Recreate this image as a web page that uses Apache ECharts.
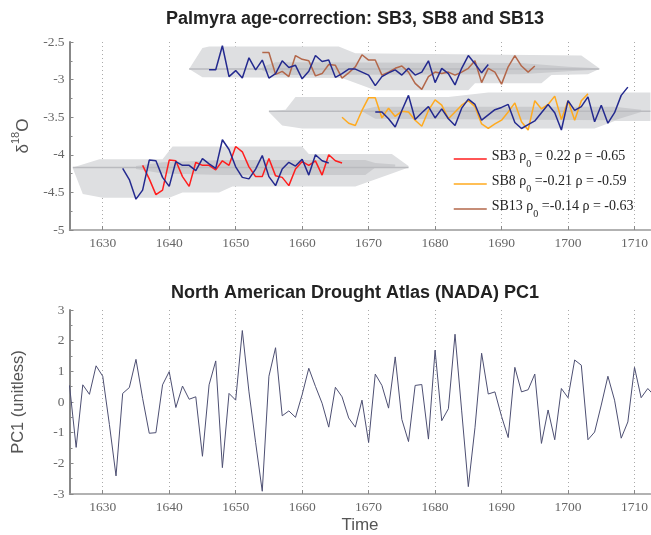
<!DOCTYPE html>
<html>
<head>
<meta charset="utf-8">
<script src="https://cdn.jsdelivr.net/npm/echarts@6/dist/echarts.min.js"></script>
<style>
  html, body { margin: 0; padding: 0; background: #fff; }
  #chart { width: 651px; height: 535px; }
</style>
</head>
<body>
<div id="chart"></div>
<script>
  // --- data ---
  const yearTicks = [1630, 1640, 1650, 1660, 1670, 1680, 1690, 1700, 1710]

  // delta18O records, one value per year from the start year
  const sb3Start = 1636
  const sb3Values = [-4.14, -4.32, -4.53, -4.47, -4.07, -4.08, -4.29, -4.42, -4.10, -4.14, -4.14, -4.20, -4.08, -4.14, -3.89, -3.96,
    -4.16, -4.29, -4.29, -4.05, -4.28, -4.30, -4.41, -4.19, -4.09, -4.14, -4.08, -4.27, -4.00, -4.08, -4.11]
  const sb3BlueStart = 1633
  const sb3BlueValues = [-4.18, -4.33, -4.59, -4.47, -4.07, -4.08, -4.30, -4.42, -4.09, -4.14, -4.14, -4.21, -4.05, -4.12, -4.18, -3.80,
    -3.93, -4.16, -4.30, -4.32, -4.19, -4.01, -4.29, -4.41, -4.19, -4.10, -4.15, -4.06, -4.27, -4.00, -4.08, -4.11]

  const sb8Start = 1666
  const sb8Values = [-3.50, -3.58, -3.61, -3.41, -3.24, -3.24, -3.51, -3.38, -3.49, -3.42, -3.43, -3.54, -3.62, -3.41, -3.27, -3.34,
    -3.52, -3.43, -3.34, -3.28, -3.36, -3.59, -3.65, -3.59, -3.54, -3.43, -3.31, -3.56, -3.67, -3.28, -3.39, -3.33,
    -3.22, -3.53, -3.28, -3.54, -3.28, -3.19]
  const sb8BlueStart = 1671
  const sb8BlueValues = [-3.43, -3.43, -3.52, -3.63, -3.41, -3.21, -3.53, -3.44, -3.36, -3.51, -3.39, -3.52, -3.61, -3.38, -3.26, -3.33,
    -3.54, -3.47, -3.40, -3.37, -3.33, -3.57, -3.65, -3.60, -3.55, -3.44, -3.33, -3.44, -3.67, -3.28, -3.41, -3.36,
    -3.23, -3.56, -3.34, -3.58, -3.44, -3.21, -3.10]

  const sb13Start = 1654
  const sb13Values = [-2.64, -2.64, -2.93, -2.89, -2.96, -2.68, -2.73, -2.75, -2.95, -2.92, -2.80, -2.81, -2.98, -2.91, -2.83, -2.67,
    -2.74, -2.74, -2.94, -2.90, -2.85, -2.82, -2.90, -3.05, -3.13, -2.96, -2.90, -2.92, -2.90, -2.94, -2.90, -2.85,
    -2.75, -3.04, -2.85, -2.90, -3.06, -2.83, -2.68, -2.82, -2.90, -2.82]
  const sb13BlueStart = 1646
  const sb13BlueValues = [-2.87, -2.87, -2.55, -2.96, -2.88, -2.98, -2.71, -2.87, -2.74, -2.98, -2.92, -2.75, -2.84, -2.81, -2.99, -2.89,
    -2.68, -2.76, -2.74, -2.97, -2.92, -2.86, -2.86, -2.90, -2.94, -3.08, -2.96, -2.91, -2.87, -2.94, -2.85, -2.94,
    -2.90, -2.75, -3.04, -2.85, -2.92, -3.07, -2.85, -2.68, -2.79, -2.91, -2.80]

  // grey age-model envelopes: [year, value] along upper and lower edges
  const sb3OuterUp = [[1625.5, -4.17], [1629.5, -4.06], [1639, -4.06], [1640.5, -3.89], [1660, -3.89], [1661, -3.99], [1673.5, -3.99], [1676, -4.15]]
  const sb3OuterLow = [[1625.5, -4.18], [1627, -4.52], [1630, -4.57], [1640, -4.57], [1642, -4.50], [1647.5, -4.50], [1649.5, -4.42], [1668, -4.42], [1673.5, -4.25], [1676, -4.17]]
  const sb3InnerUp = [[1635, -4.15], [1639, -4.10], [1648, -4.07], [1669.5, -4.07], [1671, -4.11], [1674, -4.13]]
  const sb3InnerLow = [[1635, -4.19], [1639, -4.25], [1648, -4.27], [1669.5, -4.27], [1671, -4.17], [1674, -4.16]]
  const sb3Center = [[1625.5, -4.17], [1676, -4.17]]

  const sb13OuterUp = [[1643, -2.86], [1645, -2.58], [1646, -2.56], [1665.5, -2.56], [1668, -2.65], [1702, -2.68], [1704.7, -2.85]]
  const sb13OuterLow = [[1643, -2.86], [1645, -2.97], [1666, -2.98], [1671, -3.14], [1685, -3.14], [1686, -3.05], [1696, -3.05], [1697.5, -2.94], [1703, -2.93], [1704.7, -2.86]]
  const sb13InnerUp = [[1654, -2.83], [1656, -2.77], [1693, -2.78], [1700, -2.83], [1704.5, -2.85]]
  const sb13InnerLow = [[1654, -2.88], [1656, -2.94], [1693, -2.93], [1700, -2.89], [1704.5, -2.87]]
  const sb13Center = [[1643, -2.86], [1704.7, -2.86]]

  const sb8OuterUp = [[1655, -3.42], [1657.5, -3.40], [1659, -3.23], [1682, -3.23], [1688, -3.17], [1712.4, -3.17]]
  const sb8OuterLow = [[1655, -3.43], [1657, -3.61], [1660, -3.65], [1704, -3.65], [1707, -3.55], [1712.4, -3.55]]
  const sb8InnerUp = [[1669, -3.40], [1671, -3.36], [1707, -3.36], [1711, -3.40]]
  const sb8InnerLow = [[1669, -3.42], [1671, -3.52], [1707, -3.54], [1711, -3.43]]
  const sb8Center = [[1655, -3.42], [1712.4, -3.42]]

  // NADA PC1, annual from 1625
  const nadaStart = 1625
  const nadaValues = [0.54, -1.48, 0.56, 0.25, 1.18, 0.84, -0.73, -2.41, 0.28, 0.47, 1.39, 0.12, -1.02, -1.00, 0.56, 0.99,
    -0.18, 0.52, 0.09, 0.17, -1.77, 0.56, 1.34, -2.14, 0.28, 0.06, 2.33, 0.33, -1.32, -2.91, 0.84, 1.77,
    -0.45, -0.29, -0.50, 0.24, 1.10, 0.51, -0.04, -0.82, 0.48, 0.17, -0.52, -0.82, 0.06, -1.32, 0.91, 0.54,
    -0.20, 1.47, -0.57, -1.29, 0.54, 0.57, -1.21, 1.69, -0.61, -0.22, 2.21, -0.29, -2.76, -0.84, 1.59, 0.26,
    0.33, -0.47, -1.16, 1.13, 0.33, 0.40, 0.91, -1.35, -0.26, -1.23, 0.44, 0.14, 1.37, 1.20, -1.23, -0.98,
    -0.10, 0.84, 0.06, -1.18, -0.65, 1.13, 0.14, 0.44, 0.20]

  const legendLabels = {
    SB3: ['SB3 \u03c1', '0', ' = 0.22 \u03c1 = -0.65'],
    SB8: ['SB8 \u03c1', '0', ' =-0.21 \u03c1 = -0.59'],
    SB13: ['SB13 \u03c1', '0', ' =-0.14 \u03c1 = -0.63']
  }

  // --- helpers ---
  const lightGrey = '#dedfe1'
  const darkGrey = '#cacbce'
  const blue = '#242a8f'

  function toPairs (start, values) {
    return values.map((v, i) => [start + i, v])
  }

  const bands = [
    { up: sb13OuterUp, low: sb13OuterLow, fill: lightGrey },
    { up: sb8OuterUp, low: sb8OuterLow, fill: lightGrey },
    { up: sb3OuterUp, low: sb3OuterLow, fill: lightGrey },
    { up: sb13InnerUp, low: sb13InnerLow, fill: darkGrey },
    { up: sb8InnerUp, low: sb8InnerLow, fill: darkGrey },
    { up: sb3InnerUp, low: sb3InnerLow, fill: darkGrey }
  ]

  function renderBand (params, api) {
    const b = bands[params.dataIndex]
    const pts = b.up.concat(b.low.slice().reverse()).map(p => api.coord(p))
    return { type: 'polygon', shape: { points: pts }, style: { fill: b.fill } }
  }

  function centerLine (data) {
    return {
      type: 'line', data: data, symbol: 'none', silent: true, z: 2,
      lineStyle: { color: '#babbbf', width: 1.5 }
    }
  }

  function record (name, color, data) {
    return {
      name: name, type: 'line', data: data, symbol: 'none', z: 3,
      lineStyle: { color: color, width: 1.5 }, itemStyle: { color: color }
    }
  }

  const serif = 'Liberation Serif'
  const sans = 'Liberation Sans'

  function xAxisFor (idx, name) {
    return {
      gridIndex: idx, type: 'value', min: 1625, max: 1712.4,
      name: name, nameLocation: 'middle', nameGap: 23,
      nameTextStyle: { fontFamily: sans, fontSize: 17, color: '#555' },
      axisLine: { onZero: false, lineStyle: { color: '#999', width: 1.5 } },
      axisTick: { inside: true, length: 4, customValues: yearTicks, lineStyle: { color: '#888' } },
      axisLabel: { customValues: yearTicks, formatter: v => String(v), fontFamily: serif, fontSize: 13.5, color: '#666', margin: 6 },
      splitLine: { show: true, lineStyle: { type: [1, 3], color: '#aaa', width: 1 } }
    }
  }

  function yAxisFor (idx, min, max, interval, name, nameGap, nameStyle) {
    return {
      gridIndex: idx, type: 'value', min: min, max: max, interval: interval,
      name: name, nameLocation: 'middle', nameGap: nameGap, nameRotate: 90,
      nameTextStyle: nameStyle,
      axisLine: { show: true, onZero: false, lineStyle: { color: '#888', width: 2 } },
      axisTick: { show: true, inside: true, length: 4, lineStyle: { color: '#888' } },
      minorTick: { show: true, splitNumber: 2, length: 3, lineStyle: { color: '#888' } },
      axisLabel: { fontFamily: serif, fontSize: 13.5, color: '#666', margin: 5 },
      splitLine: { show: false }
    }
  }

  const chart = echarts.init(document.getElementById('chart'), null, { renderer: 'canvas' })

  chart.setOption({
    animation: false,
    backgroundColor: '#fff',
    title: [
      {
        text: 'Palmyra age-correction: SB3, SB8 and SB13', left: 355, top: 10, textAlign: 'center', padding: 0,
        textStyle: { fontFamily: sans, fontWeight: 'bold', fontSize: 18, color: '#222' }
      },
      {
        text: 'North American Drought Atlas (NADA) PC1', left: 355, top: 284, textAlign: 'center', padding: 0,
        textStyle: { fontFamily: sans, fontWeight: 'bold', fontSize: 18, color: '#222' }
      }
    ],
    legend: {
      data: ['SB3', 'SB8', 'SB13'],
      orient: 'vertical', left: 453, top: 149, padding: 0,
      itemWidth: 33, itemHeight: 14, itemGap: 5,
      itemStyle: { opacity: 0 },
      lineStyle: { width: 1.5 },
      formatter: name => {
        const p = legendLabels[name]
        return '{t|' + p[0] + '}{s|' + p[1] + '}{t|' + p[2] + '}'
      },
      textStyle: {
        rich: {
          t: { fontFamily: serif, fontSize: 14, color: '#222', lineHeight: 20, verticalAlign: 'top' },
          s: { fontFamily: serif, fontSize: 10, color: '#222', lineHeight: 20, verticalAlign: 'bottom' }
        }
      }
    },
    grid: [
      { left: 69.5, right: 0, top: 42, height: 188 },
      { left: 69.5, right: 0, top: 310, height: 188.5 }
    ],
    xAxis: [xAxisFor(0, ''), xAxisFor(1, 'Time')],
    yAxis: [
      yAxisFor(0, -5, -2.5, 0.5, '{a|\u03b4}{b|18}{a|O}', 31, {
        rich: {
          a: { fontFamily: sans, fontSize: 17, color: '#555', lineHeight: 22, verticalAlign: 'bottom' },
          b: { fontFamily: sans, fontSize: 11, color: '#555', lineHeight: 22, verticalAlign: 'top' }
        }
      }),
      yAxisFor(1, -3, 3, 1, 'PC1 (unitless)', 43, { fontFamily: sans, fontSize: 16.5, color: '#555' })
    ],
    series: [
      {
        type: 'custom', xAxisIndex: 0, yAxisIndex: 0, silent: true, z: 1,
        renderItem: renderBand,
        encode: { x: 0, y: 1 },
        data: bands.map(b => b.up[0])
      },
      centerLine(sb13Center),
      centerLine(sb8Center),
      centerLine(sb3Center),
      record('SB3', '#ff1e1e', toPairs(sb3Start, sb3Values)),
      record('SB8', '#ffaa1e', toPairs(sb8Start, sb8Values)),
      record('SB13', '#b3674a', toPairs(sb13Start, sb13Values)),
      record('SB3 blue', blue, toPairs(sb3BlueStart, sb3BlueValues)),
      record('SB8 blue', blue, toPairs(sb8BlueStart, sb8BlueValues)),
      record('SB13 blue', blue, toPairs(sb13BlueStart, sb13BlueValues)),
      {
        name: 'NADA PC1', type: 'line', xAxisIndex: 1, yAxisIndex: 1,
        data: toPairs(nadaStart, nadaValues), symbol: 'none',
        lineStyle: { color: '#4d4f72', width: 1 }
      }
    ]
  })
</script>
</body>
</html>
